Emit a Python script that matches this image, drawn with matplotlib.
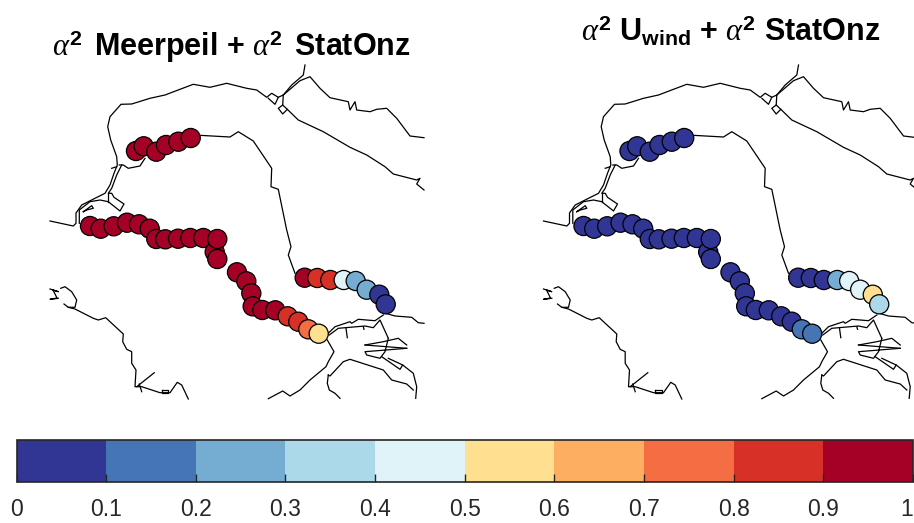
import numpy as np
import matplotlib
matplotlib.use('Agg')
import matplotlib.pyplot as plt
from matplotlib.colors import ListedColormap, BoundaryNorm

plt.rcParams['font.family'] = ['Liberation Sans', 'DejaVu Sans']
plt.rcParams['mathtext.fontset'] = 'custom'
plt.rcParams['mathtext.rm'] = 'Liberation Sans'
plt.rcParams['mathtext.bf'] = 'Liberation Sans:bold'
plt.rcParams['mathtext.it'] = 'Liberation Serif:italic'

W, H = 914, 523

# stations, in map units (draw order = list order)
station_x = [136, 143.7, 156.3, 166, 178.3, 190.7,
             90, 100.7, 113.7, 127, 139, 149.7, 156.3, 165.3, 178, 190.3, 203.3,
             214.7, 217.3, 217.3,
             237, 246.3, 251.3, 252.7, 262.3, 275.3, 287.7, 298.3, 308.3, 318.7,
             304.7, 317.3, 330.3, 343.7, 355.7, 366.7, 379.3, 385.7]
station_y = [151, 146.3, 151.7, 145, 141.7, 138,
             226, 228.7, 226.3, 222.7, 224.3, 228.7, 239, 239.3, 238.7, 238, 238,
             252, 239, 259,
             272.3, 281.3, 293.3, 306.3, 310, 310.3, 316.3, 321.7, 329.3, 333.7,
             277.7, 278, 280, 280, 281, 289.7, 294.7, 304.3]
alpha_meerpeil = [.95] * 6 + [.95] * 11 + [.95] * 3 + [.95] * 6 + [.85, .85, .75, .55] + \
                 [.95, .85, .85, .45, .25, .25, .05, .05]
alpha_uwind = [.05] * 6 + [.05] * 11 + [.05] * 3 + [.05] * 6 + [.05, .05, .15, .15] + \
              [.05, .05, .05, .25, .45, .45, .55, .35]

class_edges = [0, .1, .2, .3, .4, .5, .6, .7, .8, .9, 1]
class_colors = ['#313695', '#4575b4', '#74add1', '#abd9e9', '#e0f3f8',
                '#fee090', '#fdae61', '#f46d43', '#d73027', '#a50026']
tick_labels = ['0', '0.1', '0.2', '0.3', '0.4', '0.5', '0.6', '0.7', '0.8', '0.9', '1']

titles = [r'$\alpha^{\mathbf{2}}\,$ Meerpeil + $\alpha^{\mathbf{2}}\,$ StatOnz',
          r'$\alpha^{\mathbf{2}}$ U$_{\mathbf{wind}}$ + $\alpha^{\mathbf{2}}$ StatOnz']

# coastline pieces, map units
coast = [
    [(50, 221), (73.3, 226), (76, 223.3), (76, 213), (81.7, 205), (95, 198.3), (105, 193.3), (110, 185),
     (114, 173.3), (117.3, 165), (116.7, 156.7), (110.7, 140), (107.7, 126.7), (110, 116.7), (121, 104.3),
     (131.7, 104), (150, 98.3), (165, 95), (180, 89.3), (193.3, 84.3), (210, 87.3), (226.7, 83.3),
     (246.7, 88.3), (256.7, 90), (266.7, 97.3), (271.7, 93.3), (278.3, 97.3), (275, 104.3), (268.3, 98.3)],
    [(278.3, 97.3), (283.3, 95), (291.7, 85), (303.3, 75), (305, 65)],
    [(283.3, 95), (300, 80.7), (310, 76.7), (320, 88.3), (330, 97.7), (348.3, 101.7), (350, 110), (355, 101.7),
     (356.7, 110), (370, 111.7), (376.7, 109.3), (386.7, 108.3), (396.7, 118.3), (410, 136), (424, 137.7)],
    [(283.3, 95), (282.7, 105), (278.3, 108.3), (282.7, 114), (287.3, 109.3), (298.3, 120), (323.3, 131.7),
     (350, 147.3), (366.7, 155), (385, 166.7), (393.3, 174), (416.7, 180), (420, 178.3), (416.7, 184), (424, 190)],
    [(282.7, 105), (287.3, 109.3)],
    [(199.3, 135.3), (230, 137), (238.3, 131.7), (253.3, 141), (271.7, 168.3), (271, 186.7), (278.3, 189.3),
     (286.7, 230), (291, 246.7), (288.3, 255), (295, 273.3)],
    [(119.3, 165), (123.3, 165), (128.3, 168.3), (140, 166), (145, 158.3)],
    [(121.7, 165), (116.7, 175), (111.7, 188.3), (108.3, 193.3), (111.7, 193.3), (114, 197.3), (124, 204),
     (120, 211), (108.3, 201.7), (100, 200), (90, 201.7), (79.3, 210), (79.3, 223.3)],
    [(108.3, 193.3), (108.3, 201.7)],
    [(83.3, 211.7), (91.7, 205.7), (93.3, 208.3), (86.7, 210), (83.3, 211.7)],
    [(111.7, 168.3), (116.7, 166.7)],
    [(50, 289), (58.3, 291.7), (53, 290), (57, 298), (50, 299.3), (58.3, 298.3)],
    [(60.7, 288.3), (65, 286.7), (71.7, 291.7), (76.7, 300), (75, 307.3), (68.3, 307.3), (64, 304)],
    [(68.3, 307.3), (75, 309), (93.3, 318.3), (98.3, 320), (105.7, 317.7), (123.3, 334), (122.7, 341.7),
     (126.7, 349.3), (131.7, 351.7), (131.7, 363.3), (136, 370), (135, 386.7), (141.7, 386.7), (160, 392.7),
     (170, 392.7), (177.3, 382.3), (181.7, 385), (188.3, 399)],
    [(136.7, 386.7), (154.3, 372.7)],
    [(139.3, 384), (141.7, 391.7)],
    [(161.7, 390), (168.3, 390), (168.3, 393.3), (161.7, 393.3), (161.7, 390)],
    [(385.7, 313.3), (395, 316), (411.7, 317.3), (418.3, 322.7), (424, 323.3)],
    [(328.3, 333.3), (335, 326.7), (350, 321.7), (351.7, 323.3), (358.3, 319.3), (375, 320.7), (383.3, 315)],
    [(329.3, 335), (338.3, 328.3), (365, 326), (373.3, 327.7), (380, 320), (388.3, 338.3)],
    [(346, 328.3), (347.3, 337.7)],
    [(363.3, 326.7), (364, 329.3)],
    [(327.3, 340), (334, 351.7), (328.3, 361.7), (326, 366.7), (310, 380), (300, 390), (290, 396), (282.7, 391),
     (268.3, 398.7)],
    [(328.3, 375), (330, 376), (343.3, 361.7), (350, 359.3), (383.3, 370), (391.7, 380), (406.7, 384), (413.3, 390)],
    [(328.3, 375), (327.3, 383.3), (329.3, 390), (335, 393.3), (340, 398.3)],
    [(365, 345), (406.7, 348.3)],
    [(365, 345), (383.3, 341.7), (398.3, 338.3), (406.7, 345)],
    [(406.7, 348.3), (365, 351.7), (366.7, 355), (380, 358.3), (385, 351.7), (388.3, 338.3)],
    [(381.7, 356.7), (400, 369.3), (402.7, 365), (388.3, 358.3)],
    [(402.7, 365), (413.3, 373.3), (416.7, 386.7), (415.7, 398.3)],
]

cmap = ListedColormap(class_colors)
norm = BoundaryNorm(class_edges, cmap.N)

fig = plt.figure(figsize=(W / 100, H / 100), dpi=100)


def map_panel(left, width, values, title, title_x, title_y):
    ax = fig.add_axes([left / W, (H - 410) / H, width / W, 410 / H])
    for piece in coast:
        xs, ys = zip(*piece)
        ax.plot(xs, ys, color='k', lw=0.9, solid_joinstyle='round', zorder=1)
    ax.scatter(station_x, station_y, c=values, cmap=cmap, norm=norm, s=190,
               edgecolors='k', linewidths=0.9, zorder=2)
    ax.set_xlim(0, width)
    ax.set_ylim(410, 0)
    ax.axis('off')
    ax.text(title_x, title_y, title, fontsize=22, fontweight='bold', ha='center', va='baseline', color='k')
    return ax


map_panel(0, 460, alpha_meerpeil, titles[0], 231, 56)
map_panel(493.5, 420.5, alpha_uwind, titles[1], 237.5, 42)

cax = fig.add_axes([16.5 / W, (H - 481.5) / H, 896.5 / W, 42 / H])
sm = plt.cm.ScalarMappable(cmap=cmap, norm=norm)
cb = fig.colorbar(sm, cax=cax, orientation='horizontal', ticks=class_edges, spacing='proportional')
cb.ax.set_xticklabels(tick_labels)
cb.ax.minorticks_off()
cb.ax.tick_params(axis='x', direction='in', length=5.8, width=1.0, color='#262626',
                  labelsize=16.5, labelcolor='#262626', pad=12)
cb.outline.set_edgecolor('#262626')
cb.outline.set_linewidth(1.2)
# the last label sits against the figure edge
cb.ax.get_xticklabels()[-1].set_ha('right')

fig.savefig('out.png', dpi=100)
